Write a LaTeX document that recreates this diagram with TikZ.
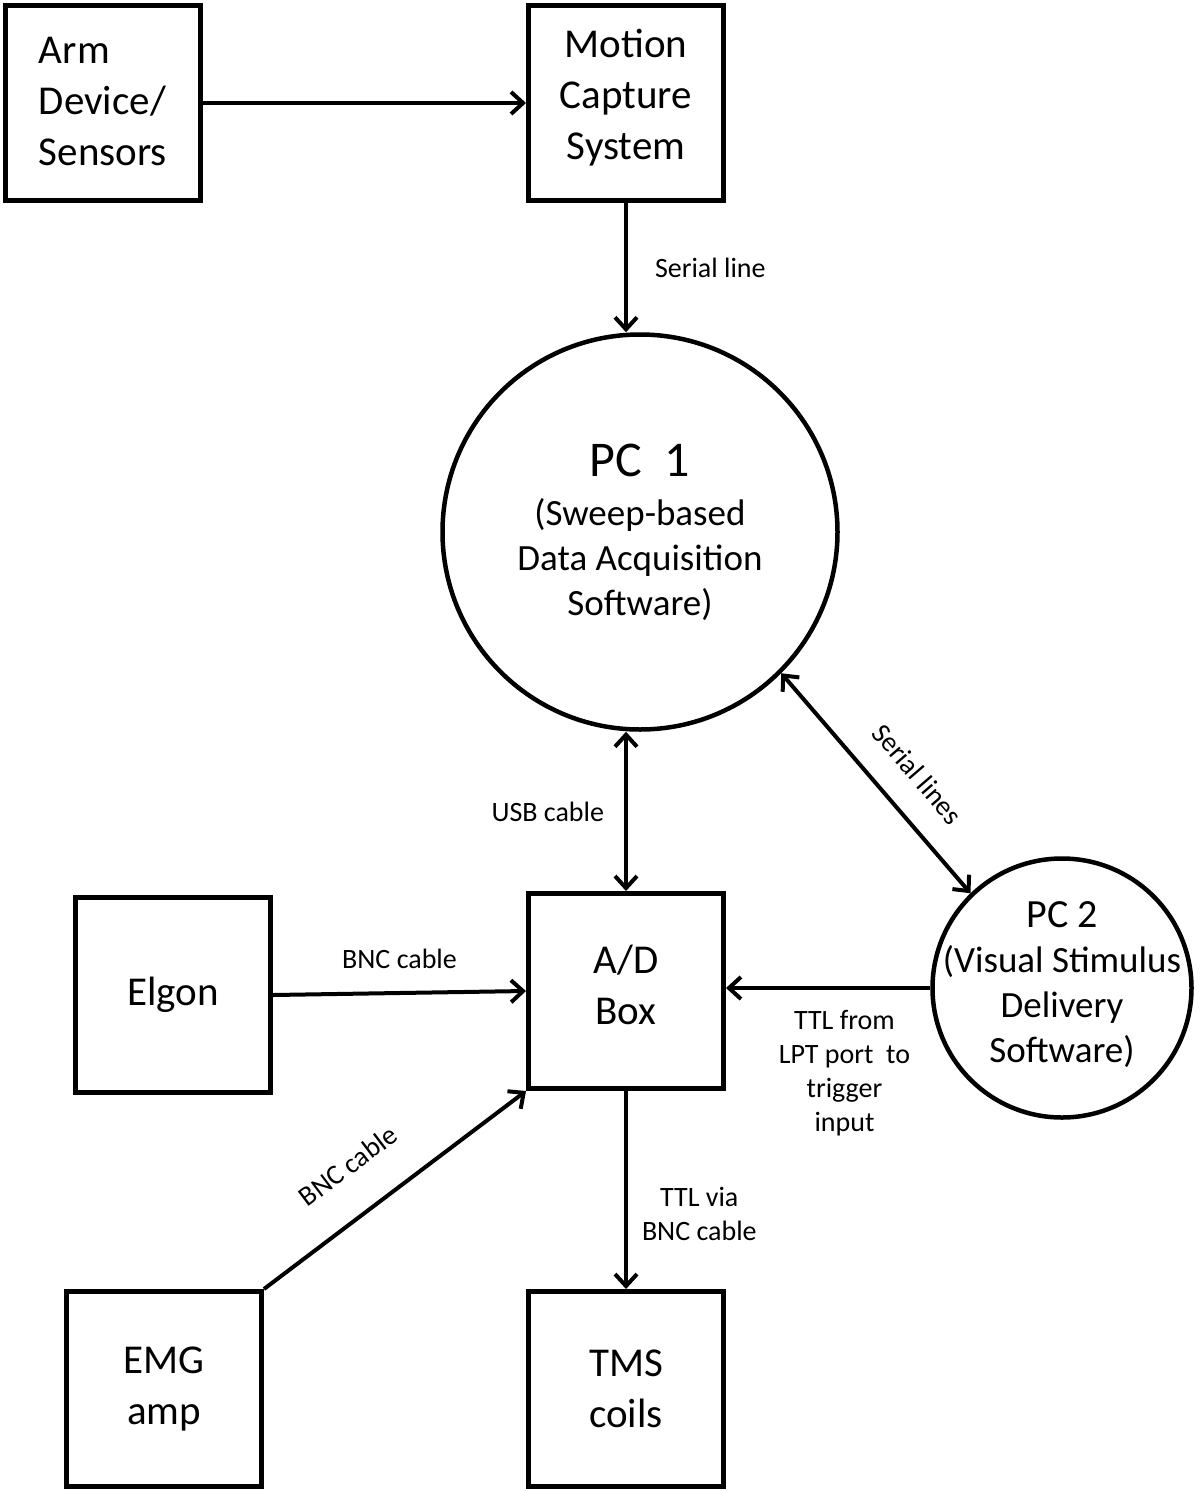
\documentclass[tikz,border=0pt]{standalone}
\usepackage{fontspec}
\setmainfont{Carlito}
\usetikzlibrary{arrows.meta,positioning}

\begin{document}
\begin{tikzpicture}
                    [x=1pt,y=1pt,>={Straight Barb[length=12pt,width=22pt]},
                     unit/.style={draw,line width=5pt,minimum size=195pt,align=center,font=\fontsize{41}{51}\selectfont},
                     pc/.style={draw,circle,line width=4.5pt,align=center,font=\fontsize{37}{45}\selectfont},
                     cable/.style={line width=4pt},
                     note/.style={align=center,font=\fontsize{28}{34}\selectfont,inner sep=2pt}]

                \useasboundingbox (0,0) rectangle (1200,-1491);

                \node[unit,align=left,text depth=4pt] (arm) at (103,-103) {Arm\\Device/\\Sensors};
                \node[unit,text depth=17pt] (mocap) at (626,-103) {Motion\\Capture\\System};
                \node[pc,minimum size=395pt] (pc1) at (640,-532) {{\fontsize{50}{60}\selectfont PC\ \ 1}\\[4pt](Sweep-based\\Data Acquisition\\Software)};
                \node[pc,minimum size=259pt] (pc2) at (1062,-988) {};
                \node[pc,draw=none,yshift=3pt] (pc2text) at (pc2) {{\fontsize{40}{48}\selectfont PC 2}\\(Visual Stimulus\\Delivery\\Software)};

                \node[unit,text depth=12pt] (ad) at (626,-991) {A/D\\Box};
                \node[unit] (elgon) at (173,-995) {Elgon};
                \node[unit] (emg) at (164,-1389) {EMG\\amp};
                \node[unit] (tms) at (626,-1389) {TMS\\coils};

                    \draw[cable,->] (arm) -- (mocap);
                    \draw[cable,->] (mocap.south) -- (mocap.south |- pc1.north) node[note,midway,right=25pt] {Serial line};
                    \draw[cable,<->] (pc1.south -| ad.north) -- (ad.north) node[note,midway,left=18pt] {USB cable};
                    \draw[cable,<->] (pc1.-45) -- (pc2.134) node[note,sloped,pos=0.57,above=24pt] {Serial lines};
                    \draw[cable,->] (pc2.west) -- (pc2.west -| ad.east) node[note,pos=0.42,below=18pt] {TTL from\\LPT port\ \ to\\trigger\\input};
                    \draw[cable,->] (elgon.east) -- (ad.west) node[note,midway,above=20pt] {BNC cable};
                    \draw[cable,->] (emg.north east) -- (ad.south west) node[note,sloped,pos=0.43,above=34pt] {BNC cable};
                    \draw[cable,->] (ad) -- (tms) node[note,pos=0.62,right=12pt] {TTL via\\BNC cable};

                \end{tikzpicture}
\end{document}
